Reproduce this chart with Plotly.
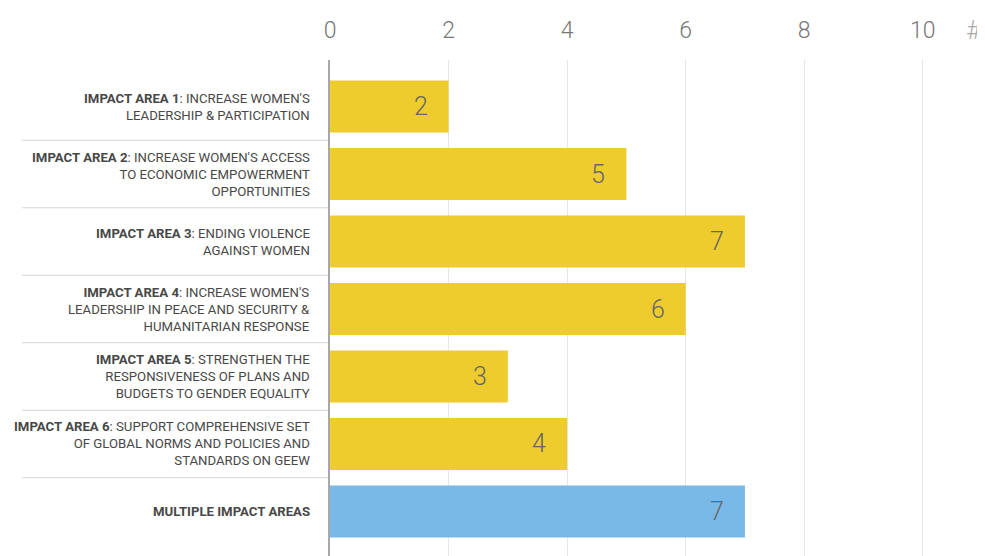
import plotly.graph_objects as go

prefixes = ["IMPACT AREA 1", "IMPACT AREA 2", "IMPACT AREA 3", "IMPACT AREA 4",
            "IMPACT AREA 5", "IMPACT AREA 6", "MULTIPLE IMPACT AREAS"]
descriptions = [
    "INCREASE WOMEN'S<br>LEADERSHIP & PARTICIPATION",
    "INCREASE WOMEN'S ACCESS<br>TO ECONOMIC EMPOWERMENT<br>OPPORTUNITIES",
    "ENDING VIOLENCE<br>AGAINST WOMEN",
    "INCREASE WOMEN'S<br>LEADERSHIP IN PEACE AND SECURITY &<br>HUMANITARIAN RESPONSE",
    "STRENGTHEN THE<br>RESPONSIVENESS OF PLANS AND<br>BUDGETS TO GENDER EQUALITY",
    "SUPPORT COMPREHENSIVE SET<br>OF GLOBAL NORMS AND POLICIES AND<br>STANDARDS ON GEEW",
    "",
]
values = [2, 5, 7, 6, 3, 4, 7]
bar_colors = ["#EECC2E"] * 6 + ["#79B9E7"]
tick_vals = [0, 2, 4, 6, 8, 10]

labels = []
for p, d in zip(prefixes, descriptions):
    labels.append(f"<b>{p}</b>: {d}" if d else f"<b>{p}</b>")

ypos = list(range(len(values)))

fig = go.Figure()
fig.add_trace(go.Bar(
    x=values, y=ypos, orientation="h",
    marker=dict(color=bar_colors, line=dict(width=0)),
    width=0.77, hoverinfo="skip",
))

for yv, v in zip(ypos, values):
    fig.add_annotation(x=v, y=yv, xref="x", yref="y", text=str(v),
                       xanchor="right", yanchor="middle", xshift=-19, showarrow=False,
                       font=dict(family="Roboto", size=25, color="#666666", weight=300))

for yv, lab in zip(ypos, labels):
    fig.add_annotation(x=-0.027, y=yv, xref="paper", yref="y", text=lab,
                       xanchor="right", yanchor="middle", align="right", showarrow=False,
                       font=dict(family="Roboto", size=13.2, color="#484848"))

for i in range(len(values) - 1):
    fig.add_shape(type="line", xref="paper", yref="y", x0=-0.47, x1=0, y0=i + 0.5, y1=i + 0.5,
                  line=dict(color="#d6d6d6", width=1), layer="below")

fig.add_annotation(x=1.0, y=1.0, xref="paper", yref="paper", text="#",
                   xanchor="right", yanchor="bottom", yshift=13, xshift=-1, showarrow=False,
                   font=dict(family="Roboto", size=26, color="#aaaaaa", weight=300))

fig.update_layout(
    width=977, height=548,
    margin=dict(l=322, r=0, t=52, b=0),
    paper_bgcolor="white", plot_bgcolor="white",
    showlegend=False,
    xaxis=dict(side="top", range=[0, 11.05], tickvals=tick_vals,
               showgrid=True, gridcolor="#e6e6e6", gridwidth=1, zeroline=False,
               ticks="", ticklabelstandoff=16,
               tickfont=dict(family="Roboto", size=23, color="#777777", weight=300),
               fixedrange=True),
    yaxis=dict(range=[6.66, -0.69], showticklabels=False, showgrid=False, zeroline=False,
               showline=True, linecolor="#a8a8a8", linewidth=2, ticks="",
               fixedrange=True),
)

fig.write_html("out.html")
